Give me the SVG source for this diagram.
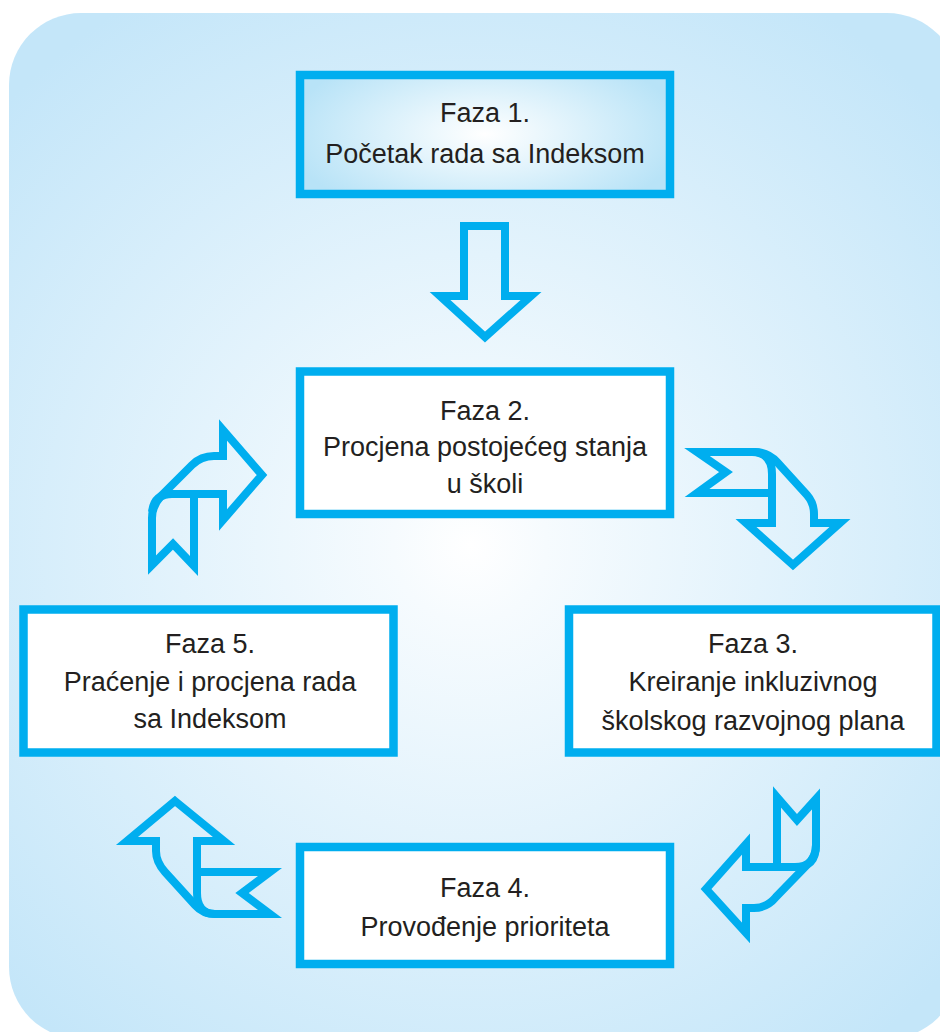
<svg xmlns="http://www.w3.org/2000/svg" width="940" height="1032" viewBox="0 0 940 1032">
  <defs>
    <radialGradient id="bgGrad" gradientUnits="userSpaceOnUse" cx="470" cy="545" r="640">
      <stop offset="0" stop-color="#ffffff"/>
      <stop offset="0.12" stop-color="#f6fbfe"/>
      <stop offset="1" stop-color="#c4e6f9"/>
    </radialGradient>
    <radialGradient id="startGrad" gradientUnits="userSpaceOnUse" cx="485" cy="134" r="200" gradientTransform="translate(485 134) scale(1 0.45) translate(-485 -134)">
      <stop offset="0" stop-color="#ffffff"/>
      <stop offset="1" stop-color="#b8e3f7"/>
    </radialGradient>
    <style>
      .box { fill: #ffffff; stroke: #00aeef; stroke-width: 8.5; }
      .box.first { fill: url(#startGrad); }
      .lbl { font-family: "Liberation Sans", Arial, sans-serif; font-size: 27px; fill: #231f20; text-anchor: middle; }
      .arrow { fill: none; stroke: #00aeef; stroke-width: 8; stroke-linejoin: miter; stroke-miterlimit: 10; }
    </style>
  </defs>

  <!-- panel -->
  <rect x="9" y="13" width="950" height="1026" rx="72" ry="72" fill="url(#bgGrad)"/>

  <!-- phase boxes -->
  <g id="faza1">
    <rect class="box first" x="300" y="75" width="370" height="119"/>
    <text class="lbl" x="485" y="122">Faza 1.</text>
    <text class="lbl" x="485" y="163">Početak rada sa Indeksom</text>
  </g>
  <g id="faza2">
    <rect class="box" x="300" y="371.5" width="370" height="142.5"/>
    <text class="lbl" x="485" y="420">Faza 2.</text>
    <text class="lbl" x="485" y="456">Procjena postojećeg stanja</text>
    <text class="lbl" x="485" y="493">u školi</text>
  </g>
  <g id="faza3">
    <rect class="box" x="569" y="609.5" width="367.5" height="143"/>
    <text class="lbl" x="753" y="653">Faza 3.</text>
    <text class="lbl" x="753" y="691">Kreiranje inkluzivnog</text>
    <text class="lbl" x="753" y="730">školskog razvojnog plana</text>
  </g>
  <g id="faza4">
    <rect class="box" x="300" y="847" width="370" height="117"/>
    <text class="lbl" x="485" y="897">Faza 4.</text>
    <text class="lbl" x="485" y="936">Provođenje prioriteta</text>
  </g>
  <g id="faza5">
    <rect class="box" x="23.5" y="609.5" width="370" height="143"/>
    <text class="lbl" x="210" y="653">Faza 5.</text>
    <text class="lbl" x="210" y="691">Praćenje i procjena rada</text>
    <text class="lbl" x="210" y="728">sa Indeksom</text>
  </g>

  <!-- block arrows between phases -->
  <g id="connectors">
    <!-- 1 -> 2 -->
    <path class="arrow" d="M464,226 L505,226 L505,296 L531,296 L485,337 L440,296 L464,296 Z"/>
    <!-- 2 -> 3 -->
    <path class="arrow" d="M697,452 L755,452 Q768,452 777,462 L807,495 Q814,503 814,514 L814,523 L840,523 L793,565 L746,523 L772,523 L772,493 L697,493 L726,472 Z"/>
    <path class="arrow" d="M772,493 L772,474 Q772,452 752,452"/>
    <!-- 3 -> 4 -->
    <path class="arrow" d="M777,797 L797,820 L816,799 L816,845 Q816,856 808,864 L776,897 Q767,908 754,908 L746,908 L746,933 L706,889 L746,844 L746,867 L777,867 Z"/>
    <path class="arrow" d="M777,867 L795,867 Q816,867 816,845"/>
    <!-- 4 -> 5 -->
    <path class="arrow" d="M175,801 L224,841 L197,841 L197,872 L270,872 L242,893 L270,914 L215,914 Q203,914 195,905 L165,872 Q156,862 156,851 L156,841 L127,841 Z"/>
    <path class="arrow" d="M197,872 L197,893 Q197,914 215,914"/>
    <!-- 5 -> 2 -->
    <path class="arrow" d="M223,456 L214,456 Q201,456 192,465 L161,496 Q152,506 152,518 L152,565 L173,544 L194,566 L194,494 L223,494 L223,520 L262,475 L223,430 Z"/>
    <path class="arrow" d="M194,494 L172,494 Q154,494 152,512"/>
  </g>
</svg>
